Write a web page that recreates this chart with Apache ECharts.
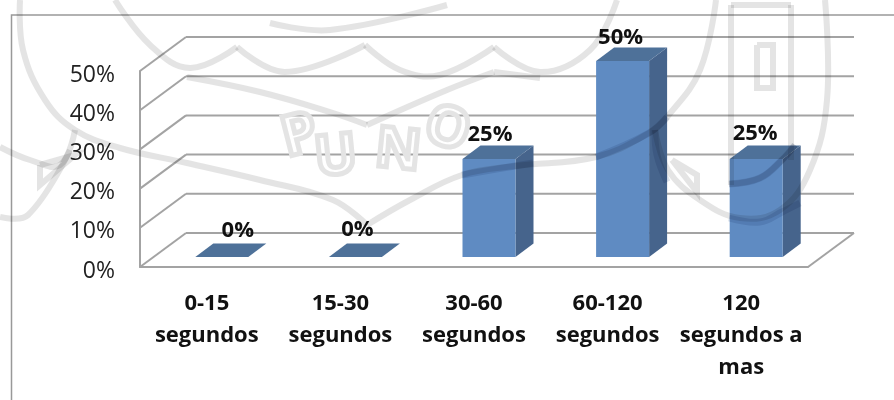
<!DOCTYPE html>
<html>
<head>
<meta charset="utf-8">
<style>
  html, body { margin: 0; background: #fff; }
  #chart { width: 894px; height: 400px; }
</style>
</head>
<body>
<div id="chart"></div>
<script src="https://cdn.jsdelivr.net/npm/echarts@6/dist/echarts.min.js"></script>
<script>
var categories = ['0-15\nsegundos', '15-30\nsegundos', '30-60\nsegundos', '60-120\nsegundos', '120\nsegundos a\nmas'];
var values = [0, 0, 25, 50, 25];
var ticks = [0, 10, 20, 30, 40, 50];

// hand placed data labels in the original, shift from bar centre and lift above the top face
var labelShift = [16, 2, 1, -2, -1];
var labelLift = [13, 14, 11, 10, 12];

// watermark strokes behind the scan
var wmStrokes = [
  [[20, 0], [23, 50], [45, 100], [75, 130], [120, 148], [187, 163], [260, 180], [333, 200], [367, 225]],
  [[367, 225], [410, 200], [462, 175], [515, 166], [596, 157], [649, 133], [667, 117], [700, 70], [716, 0]],
  [[75, 130], [60, 165], [30, 160], [0, 147]],
  [[70, 150], [28, 215], [0, 217]],
  [[115, 0], [150, 45], [190, 68], [237, 47]],
  [[237, 47], [285, 72], [365, 45]],
  [[365, 45], [400, 70], [440, 75], [494, 47]],
  [[494, 47], [540, 72], [590, 50], [617, 0]],
  [[187, 77], [260, 92], [333, 113], [367, 125]],
  [[367, 125], [447, 90], [494, 72]],
  [[494, 72], [540, 78]],
  [[270, 23], [330, 30], [447, 5]],
  [[825, 0], [827, 100], [810, 170], [780, 210], [740, 218], [700, 200], [668, 170], [655, 130]],
  [[729, 184], [760, 178], [782, 160], [795, 145]],
  [[731, 5], [731, 185]],
  [[791, 5], [791, 160]],
  [[731, 5], [791, 5]],
  [[757, 45], [773, 45], [773, 88], [757, 88], [757, 45]],
  [[672, 160], [697, 175], [697, 192], [672, 160]],
  [[40, 165], [75, 155], [40, 185], [40, 165]]
];
// same strokes read darker where they cross the bars
var wmBarBands = [
  [[462, 175], [515, 166], [533, 163]],
  [[596, 157], [649, 133], [667, 117]],
  [[655, 130], [657, 155], [667, 182]],
  [[729, 184], [760, 178], [782, 160], [795, 145]],
  [[729, 218], [760, 222], [782, 212], [800, 203]]
];
var wmLetters = [
  ['P', 300, 137, 0.25],
  ['U', 336, 158, 0.1],
  ['N', 398, 152, -0.1],
  ['O', 447, 130, -0.3]
];

var depthFloor = [46, -34];  // back wall offset
var barInset = [15, -10];    // where the bars stand on the floor
var barDepth = [18, -13.5];
var barWidth = 53;

var chart = echarts.init(document.getElementById('chart'));

function renderWall(params, api) {
  var cs = params.coordSys;
  var p = api.coord([0, api.value(0)]);
  var x0 = cs.x, x1 = cs.x + cs.width;
  var lineStyle = { stroke: '#a3a3a3', lineWidth: 2, fill: null };
  var children = [
    { type: 'line', shape: { x1: x0, y1: p[1], x2: x0 + depthFloor[0], y2: p[1] + depthFloor[1] }, style: lineStyle },
    { type: 'line', shape: { x1: x0 + depthFloor[0], y1: p[1] + depthFloor[1], x2: x1 + depthFloor[0], y2: p[1] + depthFloor[1] }, style: lineStyle }
  ];
  if (api.value(0) === 0) {
    children.push({ type: 'line', shape: { x1: x1, y1: p[1], x2: x1 + depthFloor[0], y2: p[1] + depthFloor[1] }, style: lineStyle });
  }
  return { type: 'group', children: children };
}

function renderBar(params, api) {
  var i = api.value(0);
  var top = api.coord([i, api.value(1)]);
  var base = api.coord([i, 0]);
  var l = top[0] + barInset[0] - barWidth / 2;
  var r = l + barWidth;
  var t = top[1] + barInset[1];
  var b = base[1] + barInset[1];
  var dx = barDepth[0], dy = barDepth[1];
  var children = [];
  if (b - t > 0) {
    children.push({ type: 'polygon', shape: { points: [[r, t], [r + dx, t + dy], [r + dx, b + dy], [r, b]] }, style: { fill: '#46648c' } });
    children.push({ type: 'rect', shape: { x: l, y: t, width: barWidth, height: b - t }, style: { fill: '#5f8bc2' } });
  }
  children.push({ type: 'polygon', shape: { points: [[l, t], [l + dx, t + dy], [r + dx, t + dy], [r, t]] }, style: { fill: '#4e7199' } });
  children.push({
    type: 'text',
    style: {
      x: top[0] + barInset[0] + labelShift[i],
      y: t + dy - labelLift[i],
      text: api.value(1) + '%',
      fill: '#111',
      font: 'bold 22px "Open Sans"',
      align: 'center',
      verticalAlign: 'middle'
    }
  });
  return { type: 'group', children: children };
}

function stroke(pts, color, width) {
  var closed = pts[0][0] === pts[pts.length - 1][0] && pts[0][1] === pts[pts.length - 1][1];
  return {
    type: 'polyline',
    z: 100,
    silent: true,
    shape: { points: pts, smooth: closed || pts.length < 3 ? 0 : 0.4 },
    style: { stroke: color, lineWidth: width, fill: null, blend: 'multiply' }
  };
}

var graphics = wmStrokes.map(function (pts) { return stroke(pts, '#e4e4e4', 6); })
  .concat(wmBarBands.map(function (pts) { return stroke(pts, '#dde3ec', 7); }));

wmLetters.forEach(function (w) {
  graphics.push({
    type: 'text', z: 100, silent: true, x: w[1], y: w[2], rotation: w[3],
    style: { text: w[0], font: 'bold 56px "Open Sans"', fill: 'transparent', stroke: '#e4e4e4', lineWidth: 5, align: 'center', verticalAlign: 'middle', blend: 'multiply' }
  });
});
// outer frame of the pasted chart, only top and left survive
graphics.push({
  type: 'polyline', z: 1, silent: true,
  shape: { points: [[11.5, 400], [11.5, 15], [894, 15]] },
  style: { stroke: '#999', lineWidth: 1.5, fill: null }
});

chart.setOption({
  animation: false,
  backgroundColor: '#fff',
  graphic: graphics,
  grid: { left: 140, right: 86, top: 71, height: 196 },
  xAxis: {
    type: 'category',
    data: categories,
    axisLine: { show: true, lineStyle: { color: '#a3a3a3', width: 2 } },
    axisTick: { show: false },
    axisLabel: { interval: 0, margin: 21, color: '#111', fontFamily: 'Open Sans', fontWeight: 'bold', fontSize: 22, lineHeight: 32 }
  },
  yAxis: {
    type: 'value',
    min: 0,
    max: 50,
    interval: 10,
    splitLine: { show: false },
    axisLine: { show: true, lineStyle: { color: '#a3a3a3', width: 2 } },
    axisTick: { show: false },
    axisLabel: { margin: 25, color: '#222', fontFamily: 'Open Sans', fontSize: 23, verticalAlign: 'top', lineHeight: 8, formatter: '{value}%' }
  },
  series: [
    {
      type: 'custom',
      renderItem: renderWall,
      data: ticks.map(function (t) { return [t]; }),
      encode: { y: 0 },
      silent: true,
      z: 2
    },
    {
      type: 'custom',
      renderItem: renderBar,
      data: values.map(function (v, i) { return [i, v]; }),
      encode: { x: 0, y: 1 },
      z: 3
    }
  ]
});
</script>
</body>
</html>
